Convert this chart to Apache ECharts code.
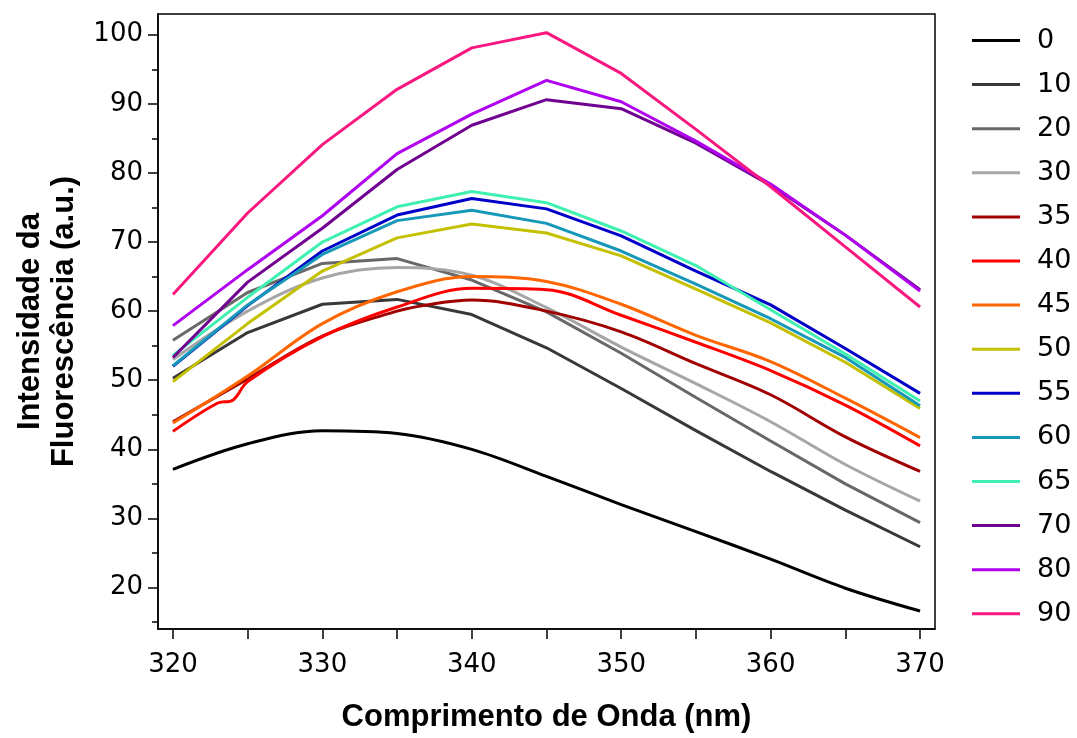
<!DOCTYPE html>
<html>
<head>
<meta charset="utf-8">
<script src="https://cdn.jsdelivr.net/npm/echarts@6/dist/echarts.min.js"></script>
<style>
html,body{margin:0;padding:0;background:#fff;}
#chart{width:1077px;height:738px;}
</style>
</head>
<body>
<div id="chart"></div>
<script>
// ---- data ----
const wavelengths = [320, 325, 330, 335, 340, 345, 350, 355, 360, 365, 370];
const wavelengthsRed = [320, 323, 324, 325, 330, 335, 340, 345, 350, 355, 360, 365, 370];
const wavelengthsDarkRed = [320, 325, 330, 335, 337, 340, 345, 350, 355, 360, 365, 370];
const seriesNames = ['0', '10', '20', '30', '35', '40', '45', '50', '55', '60', '65', '70', '80', '90'];
const seriesColors = ['#000000', '#383838', '#686868', '#a6a6a6', '#a00000', '#ff0000', '#ff6600',
  '#c4c000', '#0000c8', '#1898b8', '#40f0b0', '#700090', '#b000f0', '#f81880'];
const smoothFlags = [true, false, false, true, true, true, true, false, false, false, false, false, false, false];

const v0  = [37.1, 40.8, 42.7, 42.3, 40.0, 36.1, 32.0, 28.1, 24.1, 19.9, 16.6];
const v10 = [50.3, 56.9, 61.0, 61.7, 59.5, 54.7, 48.8, 42.7, 36.8, 31.2, 25.9];
const v20 = [55.8, 62.7, 66.9, 67.6, 64.5, 59.9, 53.9, 47.5, 41.2, 35.0, 29.4];
const v30 = [53.0, 60.0, 64.8, 66.3, 65.2, 60.5, 54.8, 49.5, 44.0, 37.8, 32.5];
const v35 = [44.0, 50.2, 56.4, 60.0, 60.9, 61.6, 60.0, 57.0, 52.4, 47.9, 41.8, 36.8];
const v40 = [42.6, 46.7, 47.1, 49.8, 56.3, 60.6, 63.3, 63.1, 59.4, 55.5, 51.4, 46.4, 40.5];
const v45 = [43.8, 50.6, 58.2, 62.8, 65.0, 64.3, 61.0, 56.5, 52.7, 47.4, 41.7];
const v50 = [49.8, 58.2, 65.8, 70.6, 72.6, 71.3, 68.0, 63.2, 58.3, 52.6, 45.9];
const v55 = [52.0, 60.8, 68.7, 73.9, 76.3, 74.8, 70.9, 65.8, 60.9, 54.6, 48.1];
const v60 = [52.1, 60.9, 68.2, 73.1, 74.6, 72.7, 68.7, 63.9, 58.9, 53.3, 46.3];
const v65 = [53.6, 62.0, 70.0, 75.1, 77.3, 75.7, 71.6, 66.6, 60.2, 53.8, 47.0];
const v70 = [53.3, 64.2, 72.0, 80.5, 86.9, 90.6, 89.3, 84.3, 78.2, 71.0, 63.1];
const v80 = [57.9, 66.0, 73.8, 82.8, 88.5, 93.4, 90.3, 84.6, 78.4, 71.0, 62.9];
const v90 = [62.4, 74.2, 84.1, 92.1, 98.1, 100.3, 94.4, 86.3, 78.0, 69.3, 60.6];

const seriesValues = [v0, v10, v20, v30, v35, v40, v45, v50, v55, v60, v65, v70, v80, v90];
const seriesX = [wavelengths, wavelengths, wavelengths, wavelengths, wavelengthsDarkRed, wavelengthsRed,
  wavelengths, wavelengths, wavelengths, wavelengths, wavelengths, wavelengths, wavelengths, wavelengths];

const xMajorTicks = [320, 325, 330, 335, 340, 345, 350, 355, 360, 365, 370];
const xLabels = [320, 330, 340, 350, 360, 370];
const yLabels = [20, 30, 40, 50, 60, 70, 80, 90, 100];
const yMinorTicks = [15, 25, 35, 45, 55, 65, 75, 85, 95];

const xTitle = 'Comprimento de Onda (nm)';
const yTitle = 'Intensidade da\nFluorescência (a.u.)';

// ---- chart ----
const tickFont = 'DejaVu Sans';
const chart = echarts.init(document.getElementById('chart'));

const series = seriesNames.map((name, i) => ({
  name: name,
  type: 'line',
  data: seriesX[i].map((x, j) => [x, seriesValues[i][j]]),
  smooth: smoothFlags[i] ? 0.35 : false,
  showSymbol: false,
  symbol: 'none',
  lineStyle: { color: seriesColors[i], width: 3 },
  itemStyle: { color: seriesColors[i] },
  emphasis: { disabled: true },
  animation: false
}));

chart.setOption({
  animation: false,
  backgroundColor: '#ffffff',
  grid: {
    left: 158, top: 14, right: 142, bottom: 106,
    show: true, borderColor: '#000', borderWidth: 1.5, backgroundColor: 'transparent'
  },
  legend: {
    orient: 'vertical',
    left: 967,
    top: 22,
    icon: 'rect',
    itemWidth: 48,
    itemHeight: 3,
    itemGap: 17.1,
    data: seriesNames,
    textStyle: { fontFamily: tickFont, fontSize: 27, color: '#000', lineHeight: 27, padding: [0, 0, 0, 12] }
  },
  xAxis: [{
    type: 'value',
    min: 319, max: 371,
    name: xTitle,
    nameLocation: 'middle',
    nameGap: 73,
    nameTextStyle: { fontFamily: 'Liberation Sans', fontWeight: 'bold', fontSize: 31, color: '#000' },
    axisLine: { show: true, lineStyle: { color: '#000', width: 1.5 } },
    axisTick: { show: true, length: 10, customValues: xMajorTicks, lineStyle: { color: '#000', width: 1.5 } },
    axisLabel: { show: true, customValues: xLabels, margin: 23, fontFamily: tickFont, fontSize: 26, color: '#000' },
    splitLine: { show: false }
  }],
  yAxis: [{
    type: 'value',
    min: 14, max: 103,
    name: yTitle,
    nameLocation: 'middle',
    nameRotate: 90,
    nameGap: 77,
    nameTextStyle: { fontFamily: 'Liberation Sans', fontWeight: 'bold', fontSize: 31, color: '#000', lineHeight: 34, align: 'center' },
    axisLine: { show: true, lineStyle: { color: '#000', width: 1.5 } },
    axisTick: { show: true, length: 10, customValues: yLabels, lineStyle: { color: '#000', width: 1.5 } },
    axisLabel: { show: true, customValues: yLabels, margin: 15, fontFamily: tickFont, fontSize: 26, color: '#000' },
    splitLine: { show: false }
  }, {
    type: 'value',
    min: 14, max: 103,
    position: 'left',
    axisLine: { show: false },
    axisTick: { show: true, length: 6, customValues: yMinorTicks, lineStyle: { color: '#000', width: 1.5 } },
    axisLabel: { show: false },
    splitLine: { show: false }
  }],
  series: series
});
</script>
</body>
</html>
